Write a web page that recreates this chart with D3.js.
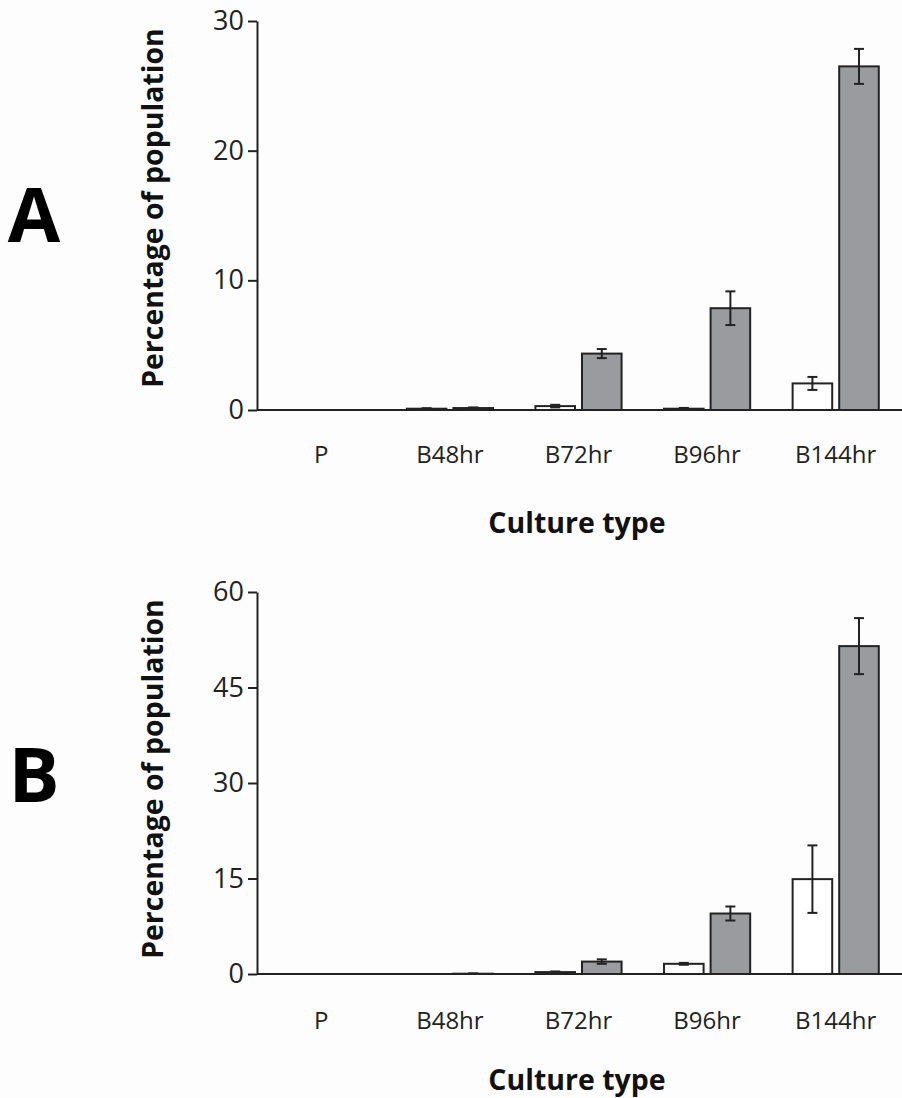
<!DOCTYPE html>
<html>
<head>
<meta charset="utf-8">
<script src="https://cdn.jsdelivr.net/npm/d3@7"></script>
<style>
  html, body { margin: 0; padding: 0; background: #fdfdfd; }
  svg { display: block; font-family: 'Open Sans', sans-serif; }
</style>
</head>
<body>
<div id="chart"></div>
<script>
// categories on the x axis
const categories = ['P', 'B48hr', 'B72hr', 'B96hr', 'B144hr'];
const seriesKeys = ['open', 'filled'];

// panel A values (percentage of population) and error half-widths
const aOpen = [0, 0.1, 0.3, 0.1, 2.05];
const aOpenErr = [0, 0.04, 0.1, 0.06, 0.5];
const aFilled = [0, 0.15, 4.35, 7.85, 26.5];
const aFilledErr = [0, 0.05, 0.35, 1.3, 1.35];
const aTicks = [0, 10, 20, 30];

// panel B values
const bOpen = [0, 0, 0.3, 1.6, 14.9];
const bOpenErr = [0, 0, 0.1, 0.15, 5.3];
const bFilled = [0, 0.05, 1.95, 9.5, 51.5];
const bFilledErr = [0, 0.05, 0.35, 1.1, 4.4];
const bTicks = [0, 15, 30, 45, 60];

const width = 902, height = 1098;
const ink = '#222';

const svg = d3.select('#chart')
    .append('svg')
    .attr('width', width)
    .attr('height', height);

svg.append('rect')
    .attr('width', width)
    .attr('height', height)
    .attr('fill', '#fdfdfd');

const x = d3.scaleBand()
    .domain(categories)
    .range([257, 900])
    .paddingInner(0.33)
    .paddingOuter(0.165);

const xSub = d3.scaleBand()
    .domain(seriesKeys)
    .range([0, x.bandwidth()])
    .paddingInner(0.15);

const fills = { open: '#ffffff', filled: '#9a9b9f' };

function drawPanel(cfg) {
    const g = svg.append('g').attr('class', 'panel-' + cfg.letter);

    const y = d3.scaleLinear()
        .domain([0, cfg.max])
        .range([cfg.y0, cfg.y1]);

    const rows = categories.map((c, i) => ({
        cat: c,
        open: cfg.open[i], openErr: cfg.openErr[i],
        filled: cfg.filled[i], filledErr: cfg.filledErr[i]
    }));

    // y axis
    const axis = g.append('g')
        .attr('transform', 'translate(257,0)')
        .call(d3.axisLeft(y).tickValues(cfg.ticks).tickSize(9).tickSizeOuter(0).tickPadding(4));
    axis.select('.domain').attr('stroke', ink).attr('stroke-width', 2);
    axis.selectAll('.tick line').attr('stroke', ink).attr('stroke-width', 2);
    axis.selectAll('.tick text')
        .attr('fill', '#222')
        .style('font-size', '27px')
        .style('font-family', "'Open Sans', sans-serif");

    // bars
    const groups = g.selectAll('.grp')
        .data(rows)
        .enter()
        .append('g')
        .attr('class', 'grp')
        .attr('transform', (d) => `translate(${x(d.cat)},0)`);

    seriesKeys.forEach((k) => {
        groups.filter((d) => d[k] > 0)
            .append('rect')
            .attr('x', xSub(k))
            .attr('y', (d) => y(d[k]))
            .attr('width', xSub.bandwidth())
            .attr('height', (d) => y(0) - y(d[k]))
            .attr('fill', fills[k])
            .attr('stroke', ink)
            .attr('stroke-width', 2);

        // error bars
        const eb = groups.filter((d) => d[k + 'Err'] > 0)
            .append('g')
            .attr('stroke', ink)
            .attr('stroke-width', 2);
        const cx = xSub(k) + xSub.bandwidth() / 2;
        eb.append('line')
            .attr('x1', cx).attr('x2', cx)
            .attr('y1', (d) => y(d[k] + d[k + 'Err']))
            .attr('y2', (d) => y(Math.max(0, d[k] - d[k + 'Err'])));
        eb.append('line')
            .attr('x1', cx - 5).attr('x2', cx + 5)
            .attr('y1', (d) => y(d[k] + d[k + 'Err']))
            .attr('y2', (d) => y(d[k] + d[k + 'Err']));
        eb.append('line')
            .attr('x1', cx - 5).attr('x2', cx + 5)
            .attr('y1', (d) => y(Math.max(0, d[k] - d[k + 'Err'])))
            .attr('y2', (d) => y(Math.max(0, d[k] - d[k + 'Err'])));
    });

    // baseline
    g.append('line')
        .attr('x1', 257).attr('x2', 902)
        .attr('y1', y(0)).attr('y2', y(0))
        .attr('stroke', ink)
        .attr('stroke-width', 2);

    // category labels
    g.selectAll('.cat')
        .data(categories)
        .enter()
        .append('text')
        .attr('x', (d) => x(d) + x.bandwidth() / 2)
        .attr('y', cfg.labelY)
        .attr('text-anchor', 'middle')
        .attr('fill', '#222')
        .style('font-size', '24px')
        .text((d) => d);

    // x title
    g.append('text')
        .attr('x', 577)
        .attr('y', cfg.titleY)
        .attr('text-anchor', 'middle')
        .attr('fill', '#111')
        .style('font-size', '28.5px')
        .style('font-weight', 'bold')
        .text('Culture type');

    // y title
    g.append('text')
        .attr('transform', `translate(152,${cfg.yTitleY}) rotate(-90)`)
        .attr('text-anchor', 'middle')
        .attr('dominant-baseline', 'central')
        .attr('fill', '#111')
        .style('font-size', '28.5px')
        .style('font-weight', 'bold')
        .text('Percentage of population');

    // panel letter
    g.append('text')
        .attr('x', 34)
        .attr('y', cfg.letterY)
        .attr('text-anchor', 'middle')
        .attr('fill', '#000')
        .style('font-size', '76px')
        .style('font-weight', 'bold')
        .text(cfg.letter);
}

drawPanel({
    letter: 'A', max: 30, ticks: aTicks,
    y0: 410, y1: 21,
    open: aOpen, openErr: aOpenErr, filled: aFilled, filledErr: aFilledErr,
    labelY: 463, titleY: 533, yTitleY: 208, letterY: 242
});

drawPanel({
    letter: 'B', max: 60, ticks: bTicks,
    y0: 974, y1: 592,
    open: bOpen, openErr: bOpenErr, filled: bFilled, filledErr: bFilledErr,
    labelY: 1029, titleY: 1090, yTitleY: 779, letterY: 802
});
</script>
</body>
</html>
